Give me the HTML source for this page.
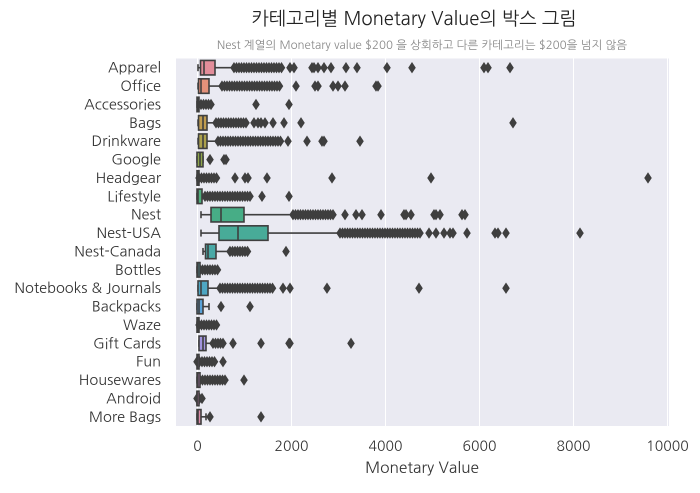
<!DOCTYPE html>
<html><head><meta charset="utf-8"><style>
body{margin:0;background:#fff;}
svg text{font-family:"NanumGothic","Liberation Sans","Noto Sans CJK KR",sans-serif;}
</style></head><body>
<svg id="s" width="700" height="488" xmlns="http://www.w3.org/2000/svg">
<rect x="176" y="58.5" width="493" height="367.5" fill="#eaeaf2"/>
<g stroke="#fff" stroke-width="1">
<line x1="197.5" y1="58.5" x2="197.5" y2="426"/><line x1="291.5" y1="58.5" x2="291.5" y2="426"/>
<line x1="385.5" y1="58.5" x2="385.5" y2="426"/><line x1="479.5" y1="58.5" x2="479.5" y2="426"/>
<line x1="573.5" y1="58.5" x2="573.5" y2="426"/><line x1="667.5" y1="58.5" x2="667.5" y2="426"/>
</g>
<g id="g"></g>
<g font-size="14" fill="#333" text-anchor="middle">
<text x="197.5" y="451">0</text><text x="291.5" y="451">2000</text><text x="385.5" y="451">4000</text>
<text x="479.5" y="451">6000</text><text x="573.5" y="451">8000</text><text x="667.5" y="451">10000</text>
</g>
<text x="422" y="473" font-size="15.5" fill="#333" text-anchor="middle">Monetary Value</text>
<text x="414" y="25" font-size="18.5" fill="#222" text-anchor="middle">카테고리별 Monetary Value의 박스 그림</text>
<text x="422" y="49" font-size="11.5" fill="#888" text-anchor="middle">Nest 계열의 Monetary value $200 을 상회하고 다른 카테고리는 $200을 넘지 않음</text>
<g id="lab" font-size="14.6" fill="#333" text-anchor="end"></g>
</svg>
<script>
var names=["Apparel","Office","Accessories","Bags","Drinkware","Google","Headgear","Lifestyle","Nest","Nest-USA","Nest-Canada","Bottles","Notebooks & Journals","Backpacks","Waze","Gift Cards","Fun","Housewares","Android","More Bags"];
var cols=["#e28d9a","#e3917a","#d19a55","#c09c4f","#aca14c","#8fa64c","#6aab55","#4fad7c","#47ad86","#48ab98","#49a9a6","#4ba8b3","#4ea6c2","#5aa2d8","#8998de","#a294de","#bc8ddc","#d287d0","#da88bd","#dc8aa8"];
var d=[
[198,200.5,204,215,234,[234,282],[290,294,312,314,318,324,331,346,357,387,412,484,488,510]],
[198,198.5,201,209,222,[222,280],[296,315,318,333,338,345,376,378]],
[197,197,198,199,199,[201,212],[256,289]],
[198,198.5,203,207,216,[216,246],[254,258,261,265,273,284,301,513]],
[198,198.5,203,207,218,[218,281],[288,307,322,324,360]],
[197,197,200,203,203,null,[210,224,226]],
[197,197,198,199,199,[199,218],[235,245,248,267,332,431,648]],
[197,197,198,202,202,[205,252],[262,289]],
[201,211,221,244,293,[293,335],[345,356,362,381,404,406,411,434,436,440,462,465]],
[201,219,238,268,340,[340,420],[429,436,444,450,453,467,495,498,506,580]],
[203,205.5,208,216,230,[230,249],[286]],
[197,197,198,200,200,[200,218],[]],
[198,198,201,208,220,[220,273],[283,290,327,419,506]],
[197,197,199,203,209,null,[221,250]],
[197,197,198,199,199,[199,218],[]],
[199,199,203,206,213,[213,225],[233,261,289,290,351]],
[197,197,197.5,198,198,[197,215],[223]],
[197,197,198,200,200,[200,225],[244]],
[197,197,197,197,197,[197,203],[]],
[197,197,198,201,206,null,[210,261]]];
var h="",l="",S="#3f3f3f";
function dia(x,y){return '<path d="M'+x+' '+(y-5)+'L'+(x+3.3)+' '+y+'L'+x+' '+(y+5)+'L'+(x-3.3)+' '+y+'Z" fill="'+S+'" stroke="'+S+'" stroke-width="0.8"/>';}
for(var i=0;i<20;i++){
 var r=d[i],y=58.5+9.2+i*18.375,bh=14.5;
 l+='<text x="161" y="'+(y+5)+'">'+names[i].replace("&","&amp;")+'</text>';
 if(r[5]){for(var x=r[5][0];x<=r[5][1];x+=2.5)h+=dia(x,y);}
 for(var k=0;k<r[6].length;k++)h+=dia(r[6][k],y);
 h+='<line x1="'+r[0]+'" y1="'+y+'" x2="'+r[1]+'" y2="'+y+'" stroke="'+S+'" stroke-width="1.6"/>';
 h+='<line x1="'+r[3]+'" y1="'+y+'" x2="'+r[4]+'" y2="'+y+'" stroke="'+S+'" stroke-width="1.6"/>';
 h+='<line x1="'+r[0]+'" y1="'+(y-3.5)+'" x2="'+r[0]+'" y2="'+(y+3.5)+'" stroke="'+S+'" stroke-width="1.6"/>';
 h+='<line x1="'+r[4]+'" y1="'+(y-3.5)+'" x2="'+r[4]+'" y2="'+(y+3.5)+'" stroke="'+S+'" stroke-width="1.6"/>';
 var w=Math.max(r[3]-r[1],2);
 h+='<rect x="'+r[1]+'" y="'+(y-bh/2)+'" width="'+w+'" height="'+bh+'" fill="'+cols[i]+'" stroke="'+S+'" stroke-width="1.6"/>';
 h+='<line x1="'+r[2]+'" y1="'+(y-bh/2)+'" x2="'+r[2]+'" y2="'+(y+bh/2)+'" stroke="'+S+'" stroke-width="1.6"/>';
}
document.getElementById("g").innerHTML=h;
document.getElementById("lab").innerHTML=l;
</script>
</body></html>
